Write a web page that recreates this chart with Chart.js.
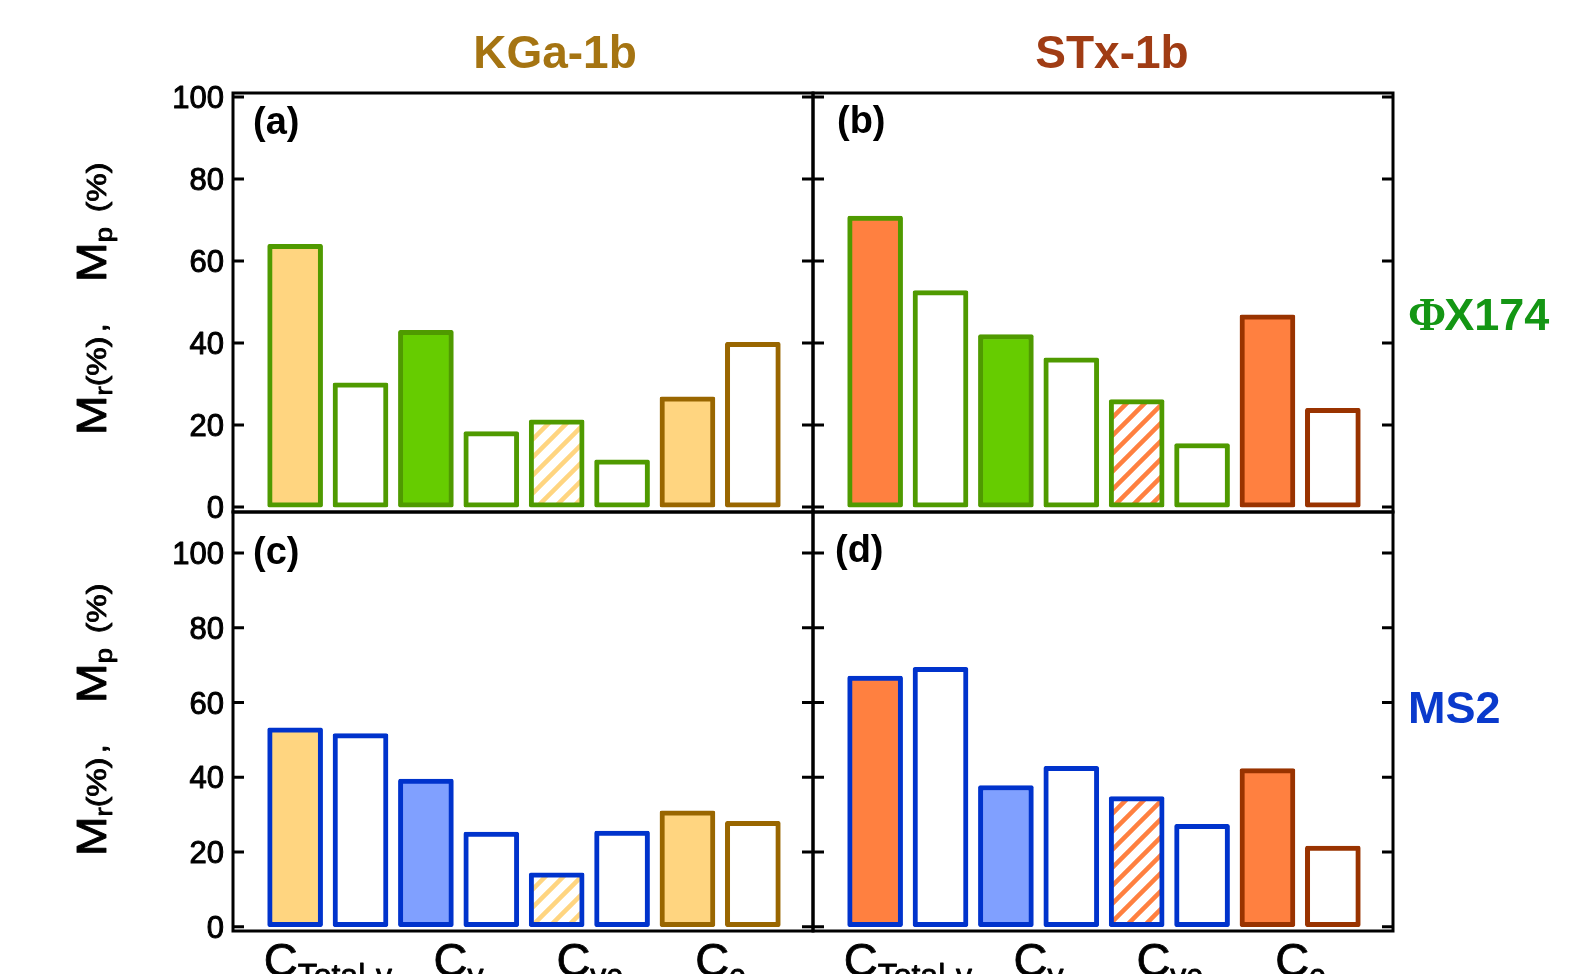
<!DOCTYPE html>
<html lang="en">
<head>
<meta charset="UTF-8">
<title>Mr / Mp by fraction</title>
<script src="https://cdn.jsdelivr.net/npm/chart.js@4.4.0/dist/chart.umd.min.js"></script>
<style>
  html, body { margin: 0; padding: 0; background: #fff; overflow: hidden; }
  #wrap { position: relative; width: 1590px; height: 974px; }
  #wrap canvas { position: absolute; left: 0; top: 0; }
</style>
</head>
<body>
<div id="wrap">
  <canvas id="chartA" width="1590" height="974"></canvas>
  <canvas id="chartB" width="1590" height="974"></canvas>
  <canvas id="chartC" width="1590" height="974"></canvas>
  <canvas id="chartD" width="1590" height="974"></canvas>
</div>
<script>
// fractions, each with two bars (Mr, Mp)
const categories = ['Total-v', 'v', 'vc', 'c'];
const yTicks = [0, 20, 40, 60, 80, 100];

// bar heights (%), order: Mr, Mp for C_Total-v, C_v, C_vc, C_c
const kgaPhiX = [64.1, 30.3, 43.1, 18.4, 21.3, 11.5, 26.9, 40.2];
const stxPhiX = [71.0, 52.8, 42.1, 36.4, 26.2, 15.5, 46.9, 24.1];
const kgaMS2  = [53.2, 51.7, 39.5, 25.3, 14.4, 25.6, 31.0, 28.2];
const stxMS2  = [67.1, 69.4, 37.8, 42.9, 34.8, 27.4, 42.3, 21.6];

const FONT = '"Liberation Sans", Arial, Helvetica, sans-serif';
const W = 1590, H = 974;

const GREEN_LINE = '#4f9a00', GREEN_FILL = '#66cc00';
const PALE = '#ffd580', BROWN = '#996600';
const ORANGE = '#ff8040', RUST = '#993300';
const BLUE_LINE = '#0033cc', BLUE_FILL = '#80a0ff';

function hatch(color) {
  const c = document.createElement('canvas');
  c.width = 18; c.height = 18;
  const g = c.getContext('2d');
  g.fillStyle = '#fff';
  g.fillRect(0, 0, 18, 18);
  g.strokeStyle = color;
  g.lineWidth = 4.5;
  g.beginPath();
  g.moveTo(-2, 20); g.lineTo(20, -2);
  g.moveTo(-11, 11); g.lineTo(11, -11);
  g.moveTo(7, 29); g.lineTo(29, 7);
  g.stroke();
  return g.createPattern(c, 'repeat');
}

function styles(clayFill, clayLine, virFill, virLine) {
  return {
    fill: [clayFill, '#fff', virFill, '#fff', hatch(clayFill), '#fff', clayFill, '#fff'],
    line: [virLine, virLine, virLine, virLine, virLine, virLine, clayLine, clayLine]
  };
}

// slightly heavier text, like the original figure
function heavyText(ctx, t, x, y, w) {
  ctx.lineWidth = w;
  ctx.strokeStyle = ctx.fillStyle;
  ctx.lineJoin = 'round';
  ctx.strokeText(t, x, y);
  ctx.fillText(t, x, y);
}

// rotated y-axis title: M_r (%),  M_p (%)
function drawYTitle(ctx, xBase, yMid) {
  const parts = [
    { t: 'M', s: 42, d: 0 }, { t: 'r', s: 24, d: 6 }, { t: '(%)', s: 28, d: 0 },
    { gap: 4 }, { t: ',', s: 28, d: 0 }, { gap: 36 },
    { t: 'M', s: 42, d: 0 }, { t: 'p', s: 24, d: 6 }, { gap: 13 }, { t: '(%)', s: 28, d: 0 }
  ];
  let total = 0;
  parts.forEach(p => {
    if (p.gap) { p.w = p.gap; } else { ctx.font = p.s + 'px ' + FONT; p.w = ctx.measureText(p.t).width; }
    total += p.w;
  });
  ctx.save();
  ctx.translate(xBase, yMid);
  ctx.rotate(-Math.PI / 2);
  ctx.scale(1.14, 1);
  ctx.textAlign = 'left';
  ctx.textBaseline = 'alphabetic';
  ctx.fillStyle = '#000';
  let u = -total / 2;
  parts.forEach(p => {
    if (!p.gap) { ctx.font = p.s + 'px ' + FONT; heavyText(ctx, p.t, u, p.d, 0.9); }
    u += p.w;
  });
  ctx.restore();
}

const decoPlugin = {
  id: 'deco',
  afterDraw(chart, args, o) {
    const { ctx, chartArea: a, scales: { x, y } } = chart;
    ctx.save();
    ctx.strokeStyle = '#000';
    ctx.lineWidth = 3;
    ctx.strokeRect(a.left, a.top, a.right - a.left, a.bottom - a.top);
    ctx.beginPath();
    yTicks.forEach(t => {
      const py = y.getPixelForValue(t);
      ctx.moveTo(a.left, py); ctx.lineTo(a.left + 11, py);
      ctx.moveTo(a.right, py); ctx.lineTo(a.right - 11, py);
    });
    ctx.stroke();

    ctx.fillStyle = '#000';
    ctx.textBaseline = 'alphabetic';
    if (o.yLabels) {
      ctx.font = '31px ' + FONT;
      ctx.textAlign = 'right';
      yTicks.forEach(t => heavyText(ctx, String(t), a.left - 9, y.getPixelForValue(t) + 11, 1));
      drawYTitle(ctx, 106, o.yTitleMid);
    }

    ctx.font = 'bold 38px ' + FONT;
    ctx.textAlign = 'left';
    ctx.fillStyle = '#000';
    ctx.fillText(o.letter, a.left + o.letterPos[0], a.top + o.letterPos[1]);

    if (o.title) {
      ctx.font = 'bold 46px ' + FONT;
      ctx.textAlign = 'center';
      ctx.fillStyle = o.title.color;
      ctx.fillText(o.title.text, o.title.x, 68);
    }

    if (o.side) {
      ctx.textAlign = 'left';
      ctx.fillStyle = o.side.color;
      let sx = a.right + 15;
      if (o.side.phi) {
        ctx.font = 'bold 46px "Liberation Serif", "Times New Roman", serif';
        ctx.fillText('\u03A6', sx, o.side.y);
        sx += ctx.measureText('\u03A6').width - 2;
      }
      ctx.font = 'bold 45px ' + FONT;
      ctx.fillText(o.side.text, sx, o.side.y);
    }

    if (o.xLabels) {
      ctx.fillStyle = '#000';
      ctx.textAlign = 'left';
      categories.forEach((c, i) => {
        const cx = x.getPixelForValue(2 * i + 1.5);
        ctx.font = '47px ' + FONT;
        const w1 = ctx.measureText('C').width;
        ctx.font = '32px ' + FONT;
        const w2 = ctx.measureText(c).width;
        const left = cx - (w1 + w2) / 2;
        ctx.font = '47px ' + FONT;
        heavyText(ctx, 'C', left, a.bottom + 45, 0.8);
        ctx.font = '32px ' + FONT;
        heavyText(ctx, c, left + w1, a.bottom + 55, 0.8);
      });
    }
    ctx.restore();
  }
};

function makePanel(id, values, rect, yRange, st, deco) {
  return new Chart(document.getElementById(id), {
    type: 'bar',
    data: {
      datasets: [{
        data: values.map((v, i) => ({ x: i + 1, y: v })),
        backgroundColor: st.fill,
        borderColor: st.line,
        borderWidth: 5,
        borderSkipped: false,
        borderRadius: 2,
        barThickness: 55
      }]
    },
    options: {
      responsive: false,
      animation: false,
      devicePixelRatio: 1,
      layout: { padding: { left: rect[0], top: rect[1], right: W - rect[2], bottom: H - rect[3] } },
      scales: {
        x: { type: 'linear', min: 0.05, max: 8.92, offset: false, display: false },
        y: { min: yRange[0], max: yRange[1], display: false }
      },
      plugins: { legend: { display: false }, tooltip: { enabled: false }, deco: deco }
    },
    plugins: [decoPlugin]
  });
}

const topRange = [-1.2, 101];
const botRange = [-1.15, 111];

makePanel('chartA', kgaPhiX, [233, 93, 813, 512], topRange,
  styles(PALE, BROWN, GREEN_FILL, GREEN_LINE),
  { letter: '(a)', letterPos: [20, 41], yLabels: true, yTitleMid: 299,
    title: { text: 'KGa-1b', x: 555, color: '#a57412' } });

makePanel('chartB', stxPhiX, [813, 93, 1393, 512], topRange,
  styles(ORANGE, RUST, GREEN_FILL, GREEN_LINE),
  { letter: '(b)', letterPos: [24, 40],
    title: { text: 'STx-1b', x: 1112, color: '#a03c14' },
    side: { text: 'X174', phi: true, y: 330, color: '#149614' } });

makePanel('chartC', kgaMS2, [233, 512, 813, 931], botRange,
  styles(PALE, BROWN, BLUE_FILL, BLUE_LINE),
  { letter: '(c)', letterPos: [20, 52], yLabels: true, yTitleMid: 720, xLabels: true });

makePanel('chartD', stxMS2, [813, 512, 1393, 931], botRange,
  styles(ORANGE, RUST, BLUE_FILL, BLUE_LINE),
  { letter: '(d)', letterPos: [22, 50], xLabels: true,
    side: { text: 'MS2', y: 723, color: '#0a3acc' } });
</script>
</body>
</html>
